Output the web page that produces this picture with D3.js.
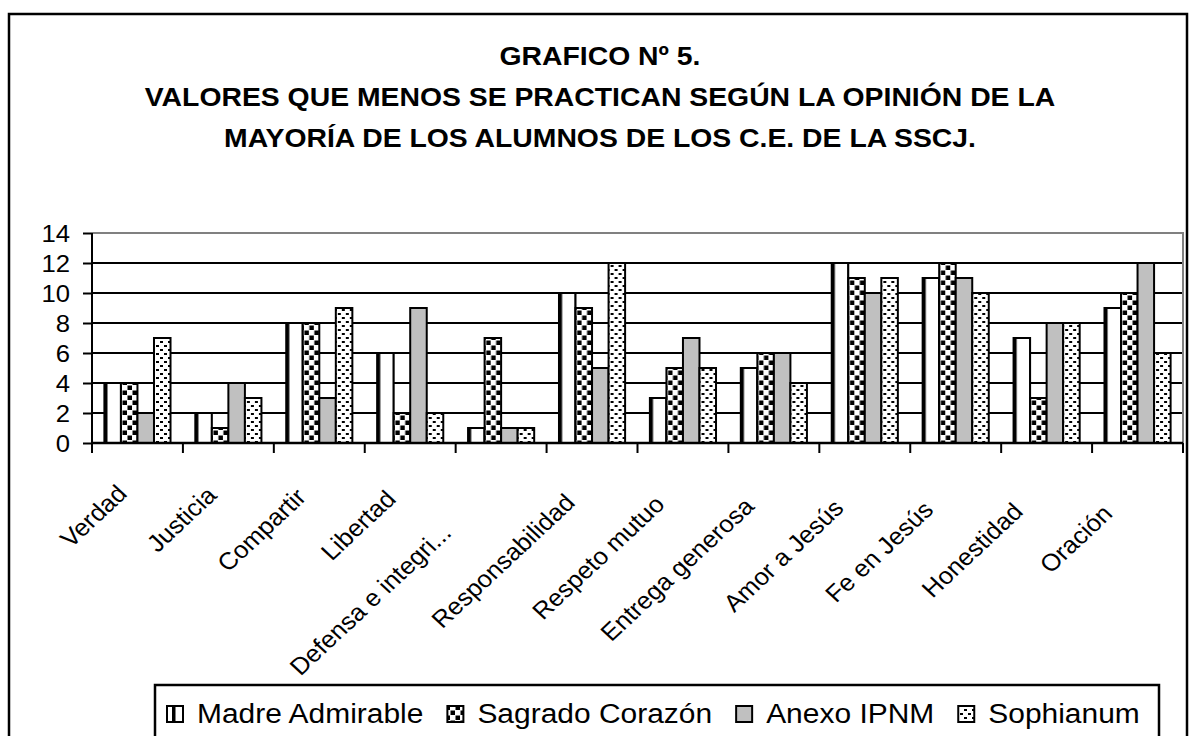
<!DOCTYPE html>
<html>
<head>
<meta charset="utf-8">
<script src="https://cdn.jsdelivr.net/npm/d3@7"></script>
<style>
  body { margin: 0; background: #fff; }
  svg { display: block; font-family: "Liberation Sans", Arial, sans-serif; }
</style>
</head>
<body>
<div id="chart"></div>
<script>
// data
var categories = ["Verdad", "Justicia", "Compartir", "Libertad", "Defensa e integri...",
    "Responsabilidad", "Respeto mutuo", "Entrega generosa", "Amor a Jesús",
    "Fe en Jesús", "Honestidad", "Oración"];
var madreAdmirable  = [4, 2, 8, 6, 1, 10, 3, 5, 12, 11, 7, 9];
var sagradoCorazon  = [4, 1, 8, 2, 7, 9, 5, 6, 11, 12, 3, 10];
var anexoIPNM       = [2, 4, 3, 9, 1, 5, 7, 6, 10, 11, 8, 12];
var sophianum       = [7, 3, 9, 2, 1, 12, 5, 4, 11, 10, 8, 6];
var seriesNames = ["Madre Admirable", "Sagrado Corazón", "Anexo IPNM", "Sophianum"];
var yTicks = [0, 2, 4, 6, 8, 10, 12, 14];
var titleLines = ["GRAFICO Nº 5.",
    "VALORES QUE MENOS SE PRACTICAN SEGÚN LA OPINIÓN DE LA",
    "MAYORÍA DE LOS ALUMNOS DE LOS C.E. DE LA SSCJ."];

var width = 1195, height = 736,
    plot = {left: 92, right: 1183, top: 233, bottom: 443},
    k = 1.07; // the original picture is slightly stretched sideways

var series = [madreAdmirable, sagradoCorazon, anexoIPNM, sophianum];
var fills = ["url(#pMadre)", "url(#pSagrado)", "#c0c0c0", "url(#pSophia)"];

var svg = d3.select("#chart").append("svg")
    .attr("width", width)
    .attr("height", height);

// fill patterns
var defs = svg.append("defs");
var p1 = defs.append("pattern").attr("id", "pMadre").attr("patternUnits", "userSpaceOnUse")
    .attr("width", 16).attr("height", 8);
p1.append("rect").attr("width", 16).attr("height", 8).attr("fill", "#fff");
p1.append("rect").attr("x", 12).attr("width", 3.5).attr("height", 8).attr("fill", "#000");

var p2 = defs.append("pattern").attr("id", "pSagrado").attr("patternUnits", "userSpaceOnUse")
    .attr("width", 10).attr("height", 10);
p2.append("rect").attr("width", 10).attr("height", 10).attr("fill", "#fff");
p2.append("rect").attr("x", 0.5).attr("y", 0.5).attr("width", 4.5).attr("height", 4.5).attr("fill", "#000");
p2.append("rect").attr("x", 5.5).attr("y", 5.5).attr("width", 4.5).attr("height", 4.5).attr("fill", "#000");

var p3 = defs.append("pattern").attr("id", "pSophia").attr("patternUnits", "userSpaceOnUse")
    .attr("width", 8).attr("height", 8);
p3.append("rect").attr("width", 8).attr("height", 8).attr("fill", "#fff");
p3.append("rect").attr("x", 0).attr("y", 1).attr("width", 3).attr("height", 2).attr("fill", "#000");
p3.append("rect").attr("x", 4).attr("y", 5).attr("width", 3).attr("height", 2).attr("fill", "#000");

// chart frame
svg.append("rect")
    .attr("x", 9).attr("y", 14)
    .attr("width", 1178).attr("height", 760)
    .attr("fill", "none").attr("stroke", "#000").attr("stroke-width", 2.5);

// title
svg.append("g").selectAll("text")
    .data(titleLines)
  .enter().append("text")
    .attr("transform", (d, i) => `translate(600,${65 + i * 41}) scale(${k},1)`)
    .attr("text-anchor", "middle")
    .style("font-size", "26.5px")
    .style("font-weight", "bold")
    .text(d => d);

var x0 = d3.scaleBand().domain(categories).range([plot.left, plot.right]),
    barW = x0.bandwidth() / 5.5,
    x1 = d3.scaleBand().domain(d3.range(4)).range([barW * 0.75, x0.bandwidth() - barW * 0.75]),
    y = d3.scaleLinear().domain([0, 14]).range([plot.bottom, plot.top]);

// gridlines
svg.append("g").selectAll("line")
    .data(yTicks.filter(t => t > 0 && t < 14))
  .enter().append("line")
    .attr("x1", plot.left).attr("x2", plot.right)
    .attr("y1", d => y(d)).attr("y2", d => y(d))
    .attr("stroke", "#000").attr("stroke-width", 2);

// plot border (top/right grey)
svg.append("path")
    .attr("d", `M${plot.left},${y(14)}H${plot.right}V${plot.bottom}`)
    .attr("fill", "none").attr("stroke", "#808080").attr("stroke-width", 2);

// bars
var groups = svg.append("g").selectAll("g")
    .data(categories)
  .enter().append("g")
    .attr("transform", d => `translate(${x0(d)},0)`);

groups.selectAll("rect")
    .data((d, i) => series.map((s, j) => ({k: j, v: s[i]})))
  .enter().append("rect")
    .attr("x", d => x1(d.k))
    .attr("y", d => y(d.v))
    .attr("width", x1.bandwidth())
    .attr("height", d => y(0) - y(d.v))
    .attr("fill", d => fills[d.k])
    .attr("stroke", "#000").attr("stroke-width", 2);

// y axis
var yAxis = svg.append("g")
    .attr("transform", `translate(${plot.left},0)`)
    .call(d3.axisLeft(y).tickValues(yTicks).tickSize(9));
yAxis.selectAll("path, line").attr("stroke", "#000").attr("stroke-width", 2);
yAxis.select(".domain").attr("d", `M0,${y(14)}V${y(0)}`);
yAxis.selectAll("text")
    .attr("x", null).attr("dy", null)
    .attr("transform", "translate(-22,8.5) scale(" + k + ",1)")
    .style("font-size", "24px")
    .style("font-family", "Liberation Sans, Arial, sans-serif")
    .attr("fill", "#000");

// x axis: ticks on category boundaries
var xAxis = svg.append("g")
    .attr("transform", `translate(0,${plot.bottom})`);
xAxis.append("line")
    .attr("x1", plot.left).attr("x2", plot.right)
    .attr("stroke", "#000").attr("stroke-width", 2.5);
xAxis.selectAll(".tk")
    .data(categories.concat([null]))
  .enter().append("line")
    .attr("class", "tk")
    .attr("x1", (d, i) => plot.left + i * x0.step())
    .attr("x2", (d, i) => plot.left + i * x0.step())
    .attr("y1", 0).attr("y2", 10)
    .attr("stroke", "#000").attr("stroke-width", 2);

// rotated category labels; the truncated one slides down along its own direction
svg.append("g").selectAll(".lbl")
    .data(categories)
  .enter().append("text")
    .attr("class", "lbl")
    .attr("transform", d => {
        var cx = x0(d) + x0.bandwidth() / 2,
            drift = cx - x0.bandwidth() / 2 - plot.left,
            ax = cx - 9 - 0.0146 * drift,
            ay = 495 + 0.02 * drift;
        if (d.length > 18) { ax -= 34; ay += 32; }
        return `translate(${ax},${ay}) scale(${k},1) rotate(-45)`;
    })
    .attr("text-anchor", "end")
    .style("font-size", "24px")
    .text(d => d);

// legend
var legend = svg.append("g");
legend.append("rect")
    .attr("x", 155).attr("y", 685)
    .attr("width", 1004).attr("height", 80)
    .attr("fill", "#fff").attr("stroke", "#000").attr("stroke-width", 2.5);

var items = legend.selectAll(".item")
    .data(seriesNames)
  .enter().append("g")
    .attr("class", "item");
items.append("rect")
    .attr("y", 706)
    .attr("width", 16).attr("height", 16)
    .attr("fill", (d, i) => fills[i])
    .attr("stroke", "#000").attr("stroke-width", 2);
items.append("text")
    .style("font-size", "28px")
    .text(d => d);

// lay legend entries out left to right
var lx = 167;
items.each(function () {
    var g = d3.select(this),
        t = g.select("text");
    g.select("rect").attr("x", lx);
    t.attr("transform", `translate(${lx + 30},723) scale(${k},1)`);
    lx += 30 + t.node().getComputedTextLength() * k + 24;
});
</script>
</body>
</html>
